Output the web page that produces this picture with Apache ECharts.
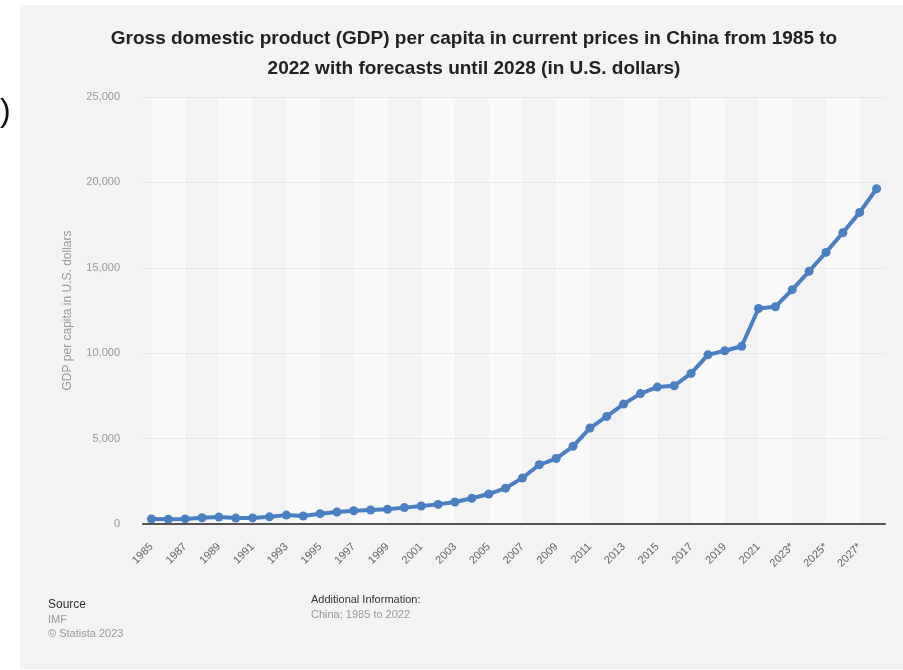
<!DOCTYPE html>
<html>
<head>
<meta charset="utf-8">
<script src="https://cdn.jsdelivr.net/npm/echarts@6/dist/echarts.min.js"></script>
<style>
html,body{margin:0;padding:0;background:#ffffff;}
#c{width:903px;height:670px;}
</style>
</head>
<body>
<div id="c"></div>
<script>
const years = ['1985','1986','1987','1988','1989','1990','1991','1992','1993','1994','1995','1996','1997','1998','1999','2000','2001','2002','2003','2004','2005','2006','2007','2008','2009','2010','2011','2012','2013','2014','2015','2016','2017','2018','2019','2020','2021','2022','2023*','2024*','2025*','2026*','2027*','2028*'];
const gdpPerCapita = [292,279,299,367,403,347,356,418,520,470,604,703,774,821,865,959,1053,1149,1289,1509,1753,2099,2694,3468,3832,4550,5614,6301,7020,7636,8016,8094,8817,9905,10144,10409,12618,12720,13721,14796,15901,17054,18245,19630];
const yTicks = [0,5000,10000,15000,20000,25000];
const titleText = 'Gross domestic product (GDP) per capita in current prices in China from 1985 to\n2022 with forecasts until 2028 (in U.S. dollars)';
const yAxisName = 'GDP per capita in U.S. dollars';

// alternating light bands between every other category centre
const bands = [];
for (let i = 0; i + 2 < years.length; i += 4) {
  bands.push([{xAxis: years[i]}, {xAxis: years[i + 2]}]);
}

const chart = echarts.init(document.getElementById('c'), null, {renderer: 'canvas'});
const FONT = 'Liberation Sans, Arial, sans-serif';
chart.setOption({
  backgroundColor: '#ffffff',
  animation: false,
  graphic: [
    {type: 'rect', left: 20, top: 5, shape: {width: 883, height: 664}, style: {fill: '#f3f3f3'}, z: -10},
    {type: 'text', left: 0, top: 96, style: {text: ')', font: '32px ' + FONT, fill: '#111'}, z: 10},
    {type: 'text', left: 48, top: 599, style: {text: 'Source', font: '12px ' + FONT, fill: '#333'}},
    {type: 'text', left: 48, top: 614, style: {text: 'IMF', font: '11px ' + FONT, fill: '#999'}},
    {type: 'text', left: 48, top: 628, style: {text: '\u00a9 Statista 2023', font: '11px ' + FONT, fill: '#999'}},
    {type: 'text', left: 311, top: 594, style: {text: 'Additional Information:', font: '11px ' + FONT, fill: '#333'}},
    {type: 'text', left: 311, top: 609, style: {text: 'China; 1985 to 2022', font: '11px ' + FONT, fill: '#999'}}
  ],
  title: {
    text: titleText,
    left: 469,
    top: 19,
    textAlign: 'center',
    textStyle: {fontFamily: FONT, fontSize: 19, fontWeight: 'bold', color: '#222', lineHeight: 30}
  },
  grid: {left: 143, right: 18, top: 97, bottom: 146, containLabel: false},
  xAxis: {
    type: 'category',
    data: years,
    boundaryGap: true,
    z: 4,
    axisLine: {show: true, lineStyle: {color: '#555', width: 2}},
    axisTick: {show: false},
    axisLabel: {interval: 1, rotate: 45, margin: 21, color: '#666', fontSize: 11, fontFamily: FONT},
    splitLine: {show: false}
  },
  yAxis: {
    type: 'value',
    min: 0,
    max: 25000,
    interval: 5000,
    z: 2,
    name: yAxisName,
    nameLocation: 'middle',
    nameGap: 69,
    nameTextStyle: {color: '#999', fontSize: 12, fontFamily: FONT},
    axisLine: {show: false},
    axisTick: {show: false},
    axisLabel: {margin: 23, color: '#999', fontSize: 11, fontFamily: FONT,
      formatter: v => yTicks.indexOf(v) >= 0 ? v.toLocaleString('en-US') : ''},
    splitLine: {show: true, lineStyle: {color: '#d8d8d8', type: 'dotted', width: 1}}
  },
  series: [
    {
      type: 'line',
      data: [],
      z: 1,
      silent: true,
      markArea: {silent: true, itemStyle: {color: '#f9f9f9'}, label: {show: false}, data: bands}
    },
    {
      type: 'line',
      data: gdpPerCapita,
      z: 3,
      symbol: 'circle',
      symbolSize: 9,
      lineStyle: {color: '#4a80c2', width: 4},
      itemStyle: {color: '#4a80c2'}
    }
  ]
});
</script>
</body>
</html>
